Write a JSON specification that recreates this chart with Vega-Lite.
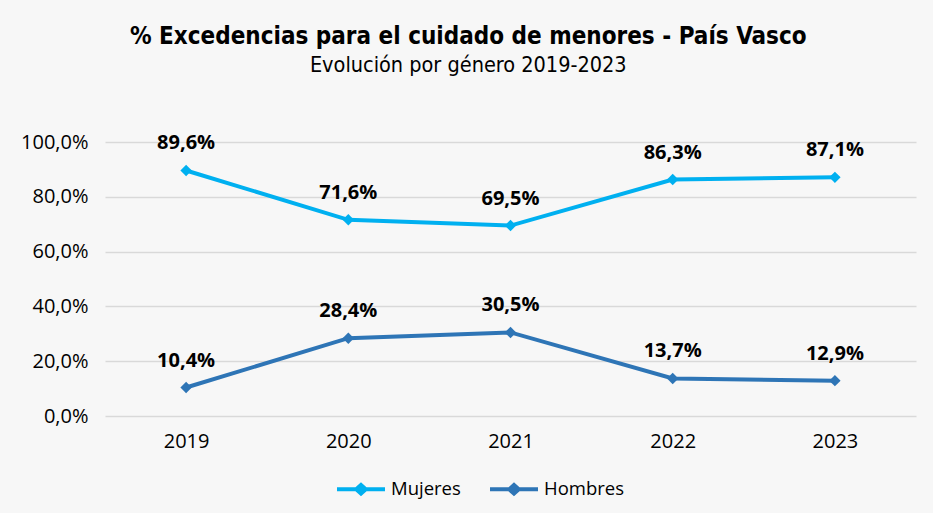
{
  "$schema": "https://vega.github.io/schema/vega-lite/v6.json",
  "width": 811,
  "height": 274,
  "autosize": {"type": "none"},
  "padding": {"left": 105, "top": 142, "right": 17, "bottom": 97},
  "background": "#f7f7f7",
  "config": {
    "locale": {"number": {"decimal": ",", "thousands": ".", "grouping": [3], "currency": ["", " €"]}},
    "view": {"stroke": null},
    "font": "Open Sans"
  },
  "title": {
    "text": "% Excedencias para el cuidado de menores - País Vasco",
    "subtitle": "Evolución por género 2019-2023",
    "anchor": "middle",
    "frame": "bounds",
    "font": "DejaVu Sans Condensed",
    "fontSize": 24,
    "fontWeight": "bold",
    "color": "#000000",
    "subtitleFont": "DejaVu Sans Condensed",
    "subtitleFontSize": 21.5,
    "subtitleColor": "#000000",
    "subtitlePadding": 6,
    "offset": 56
  },
  "data": {
    "values": [
      {"year": "2019", "genero": "Mujeres", "value": 0.896},
      {"year": "2020", "genero": "Mujeres", "value": 0.716},
      {"year": "2021", "genero": "Mujeres", "value": 0.695},
      {"year": "2022", "genero": "Mujeres", "value": 0.863},
      {"year": "2023", "genero": "Mujeres", "value": 0.871},
      {"year": "2019", "genero": "Hombres", "value": 0.104},
      {"year": "2020", "genero": "Hombres", "value": 0.284},
      {"year": "2021", "genero": "Hombres", "value": 0.305},
      {"year": "2022", "genero": "Hombres", "value": 0.137},
      {"year": "2023", "genero": "Hombres", "value": 0.129}
    ]
  },
  "encoding": {
    "x": {
      "field": "year",
      "type": "ordinal",
      "scale": {"type": "point", "padding": 0.5},
      "axis": {"title": null, "labelAngle": 0, "domain": false, "ticks": false, "grid": false, "labelFontSize": 20, "labelColor": "#000000", "labelPadding": 15}
    },
    "y": {
      "field": "value",
      "type": "quantitative",
      "scale": {"domain": [0, 1], "nice": false},
      "axis": {"title": null, "format": ".1%", "values": [0, 0.2, 0.4, 0.6, 0.8, 1], "domain": false, "ticks": false, "labelFontSize": 20, "labelColor": "#000000", "labelPadding": 17, "gridColor": "#d9d9d9", "gridWidth": 1.5}
    },
    "color": {
      "field": "genero",
      "type": "nominal",
      "scale": {"domain": ["Mujeres", "Hombres"], "range": ["#00b0f0", "#2e75b6"]},
      "legend": {
        "title": null,
        "orient": "none",
        "legendX": 230,
        "legendY": 321,
        "direction": "horizontal",
        "symbolType": "M-1,0H1M0,-0.18L0.2,0L0,0.18L-0.2,0Z",
        "symbolSize": 2304,
        "symbolStrokeWidth": 4,
        "labelFontSize": 18.5,
        "labelColor": "#000000",
        "labelOffset": 4,
        "columnPadding": 21
      }
    }
  },
  "layer": [
    {"mark": {"type": "line", "strokeWidth": 4}},
    {"mark": {"type": "point", "shape": "diamond", "filled": true, "size": 130, "opacity": 1}},
    {
      "mark": {"type": "text", "dy": -21, "baseline": "alphabetic", "fontWeight": "bold", "fontSize": 20, "color": "#000000"},
      "encoding": {"text": {"field": "value", "type": "quantitative", "format": ".1%"}, "color": {"value": "#000000"}}
    }
  ]
}
